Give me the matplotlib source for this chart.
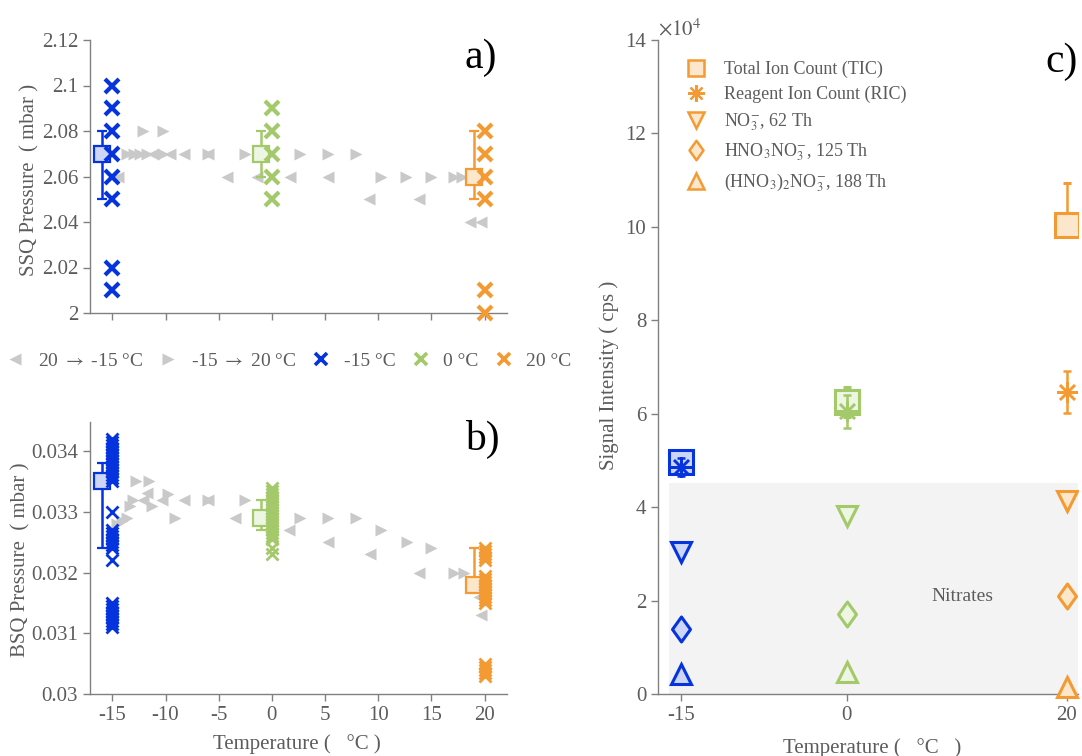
import matplotlib
matplotlib.use("Agg")
import matplotlib.pyplot as plt
from matplotlib.lines import Line2D
from matplotlib.patches import Rectangle
from matplotlib.path import Path
from matplotlib.ticker import FuncFormatter

plt.rcParams["font.family"] = ["Liberation Serif", "DejaVu Serif"]
plt.rcParams["mathtext.fontset"] = "stix"
plt.rcParams["axes.unicode_minus"] = False

# ---- panel a : SSQ pressure (mbar) ----
heat_a_T = [-13.6, -13.0, -12.4, -12.1, -11.7, -10.2, -10.2, -6.0, -2.5, 2.6, 5.3, 7.9,
            10.3, 12.6, 15.0, 17.1, 17.9]
heat_a_P = [2.07, 2.07, 2.07, 2.08, 2.07, 2.08, 2.07, 2.07, 2.07, 2.07, 2.07, 2.07,
            2.06, 2.06, 2.06, 2.06, 2.06]
cool_a_T = [19.7, 18.6, 13.8, 9.1, 5.3, 1.7, -1.4, -4.2, -6.0, -8.3, -9.6, -11.2, -14.5]
cool_a_P = [2.04, 2.04, 2.05, 2.05, 2.06, 2.06, 2.06, 2.06, 2.07, 2.07, 2.07, 2.07, 2.06]
a_m15 = [2.10, 2.09, 2.08, 2.07, 2.06, 2.05, 2.02, 2.01]
a_0 = [2.09, 2.08, 2.07, 2.06, 2.05]
a_20 = [2.08, 2.07, 2.06, 2.05, 2.01, 2.00]
a_mean = [2.07, 2.07, 2.06]
a_lo = [0.02, 0.01, 0.01]
a_hi = [0.01, 0.01, 0.02]

# ---- panel b : BSQ pressure (mbar) ----
heat_b_T = [-14.6, -14.1, -13.6, -13.3, -13.1, -12.8, -11.6, -11.3, -9.8, -9.1, -6.0, -2.5,
            2.6, 5.3, 7.9, 10.3, 12.7, 15.0, 17.1, 18.1]
heat_b_P = [0.03280, 0.03285, 0.03290, 0.03310, 0.03320, 0.03350, 0.03350, 0.03310, 0.03330,
            0.03290, 0.03320, 0.03320, 0.03290, 0.03290, 0.03290, 0.03270, 0.03250, 0.03240,
            0.03200, 0.03200]
cool_b_T = [19.7, 19.5, 13.8, 9.2, 5.3, 1.6, -3.5, -6.0, -8.3, -10.3, -11.7, -12.1]
cool_b_P = [0.03130, 0.03160, 0.03200, 0.03230, 0.03250, 0.03270, 0.03290, 0.03320, 0.03320,
            0.03320, 0.03331, 0.03319]
b_m15 = [0.03420, 0.03415, 0.03410, 0.03405, 0.03400, 0.03395, 0.03390, 0.03385, 0.03380,
         0.03375, 0.03370, 0.03365, 0.03360, 0.03355, 0.03350, 0.03300, 0.03270, 0.03265,
         0.03260, 0.03255, 0.03250, 0.03245, 0.03240, 0.03220, 0.03150, 0.03145, 0.03140,
         0.03135, 0.03130, 0.03125, 0.03120, 0.03115, 0.03110]
b_0 = [0.03340, 0.03335, 0.03330, 0.03325, 0.03320, 0.03315, 0.03310, 0.03305, 0.03300,
       0.03295, 0.03290, 0.03285, 0.03280, 0.03275, 0.03270, 0.03265, 0.03260, 0.03255,
       0.03240, 0.03230]
b_20 = [0.03240, 0.03235, 0.03230, 0.03225, 0.03220, 0.03195, 0.03190, 0.03185, 0.03180,
        0.03175, 0.03170, 0.03165, 0.03160, 0.03155, 0.03150, 0.03050, 0.03045, 0.03040,
        0.03035, 0.03030]
b_mean = [0.03350, 0.03290, 0.03180]
b_lo = [0.00110, 0.00020, 0.00010]
b_hi = [0.00030, 0.00030, 0.00060]

# ---- panel c : signal intensity (cps) ----
temps = [-15, 0, 20]
box_T = [-16, -1, 19]
tic = [49700, 62500, 100300]
tic_lo = [1000, 3200, 1300]
tic_hi = [1000, 3200, 9000]
ric = [48600, 60500, 64700]
ric_err = [2000, 3500, 4500]
no3 = [30400, 38100, 41300]
hno3no3 = [13900, 17100, 21000]
hno3_2no3 = [4300, 4700, 1500]
nitrate_band = (-16.1, 21.0, 45200)

BLUE, BLUE_F = "#0533dd", "#cdd6f6"
GREEN, GREEN_F = "#a3c96b", "#edf5e3"
ORANGE, ORANGE_F = "#f39a33", "#fde7cc"
TRI = "#c9c9c9"
TXT = "#5c5c5c"
AXC = "#808080"
cols = [BLUE, GREEN, ORANGE]
faces = [BLUE_F, GREEN_F, ORANGE_F]

DIAMOND = Path([(0, 1), (0.72, 0), (0, -1), (-0.72, 0), (0, 1)],
               [Path.MOVETO, Path.LINETO, Path.LINETO, Path.LINETO, Path.CLOSEPOLY])


def style(ax):
    for s in ("top", "right"):
        ax.spines[s].set_visible(False)
    for s in ("left", "bottom"):
        ax.spines[s].set_color(AXC)
        ax.spines[s].set_linewidth(1.0)
    ax.tick_params(direction="out", length=5, width=1, color=AXC,
                   labelcolor=TXT, labelsize=15)


W, H = 1082, 756
fig = plt.figure(figsize=(W / 100, H / 100), dpi=100)


def fx(x):
    return x / W


def fy(y):
    return 1 - y / H


ax_a = fig.add_axes([fx(90), fy(313), fx(417), 273 / H])
ax_b = fig.add_axes([fx(90), fy(694), fx(417), 272 / H])
ax_c = fig.add_axes([fx(658), fy(694), fx(420), 654 / H])

# panels a and b
for ax, heatT, heatP, coolT, coolP, groups, mean, lo, hi, xms, xmew in [
    (ax_a, heat_a_T, heat_a_P, cool_a_T, cool_a_P, [a_m15, a_0, a_20], a_mean, a_lo, a_hi, 10, 3.0),
    (ax_b, heat_b_T, heat_b_P, cool_b_T, cool_b_P, [b_m15, b_0, b_20], b_mean, b_lo, b_hi, 8.5, 2.0),
]:
    style(ax)
    ax.plot(coolT, coolP, ls="none", marker="<", ms=8.5, color=TRI, mec="none", zorder=1)
    ax.plot(heatT, heatP, ls="none", marker=">", ms=8.5, color=TRI, mec="none", zorder=1)
    for i in range(3):
        ax.errorbar([box_T[i]], [mean[i]], yerr=[[lo[i]], [hi[i]]], fmt="s", ms=12,
                    mfc=faces[i], mec=cols[i], mew=1.6, ecolor=cols[i], elinewidth=1.8,
                    capsize=3.5, capthick=1.8, zorder=3)
        ax.plot([temps[i]] * len(groups[i]), groups[i], ls="none", marker="x", ms=xms,
                mew=xmew, color=cols[i], zorder=4, clip_on=False)
    ax.set_xlim(-17.1, 22.1)
    ax.set_xticks([-15, -10, -5, 0, 5, 10, 15, 20])
    ax.yaxis.set_major_formatter(FuncFormatter(lambda v, p: f"{v:g}"))

ax_a.set_ylim(2.0, 2.12)
ax_a.set_yticks([2.0, 2.02, 2.04, 2.06, 2.08, 2.1, 2.12])
ax_a.set_xticklabels([])
ax_b.set_ylim(0.03, 0.03448)
ax_b.set_yticks([0.030, 0.031, 0.032, 0.033, 0.034])
ax_b.yaxis.set_major_formatter(FuncFormatter(lambda v, p: f"{round(v, 4):g}"))

ax_a.text(0.976, 0.934, "a)", transform=ax_a.transAxes, ha="right", va="center",
          fontsize=30, color="black")
ax_b.text(0.983, 0.934, "b)", transform=ax_b.transAxes, ha="right", va="center",
          fontsize=30, color="black")

# legend between a and b
handles = [
    Line2D([], [], ls="none", marker="<", ms=8.5, color=TRI, mec="none"),
    Line2D([], [], ls="none", marker=">", ms=8.5, color=TRI, mec="none"),
    Line2D([], [], ls="none", marker="x", ms=9, mew=2.6, color=BLUE),
    Line2D([], [], ls="none", marker="x", ms=9, mew=2.6, color=GREEN),
    Line2D([], [], ls="none", marker="x", ms=9, mew=2.6, color=ORANGE),
]
labels = [r"20 $\rightarrow$ -15 °C", r"-15 $\rightarrow$ 20 °C", "-15 °C", "0 °C", "20 °C"]
fig.legend(handles, labels, loc="center", bbox_to_anchor=(fx(288), fy(361)), ncol=5,
           frameon=False, fontsize=14, labelcolor=TXT, handlelength=1.1,
           handletextpad=0.6, columnspacing=0.75)

# panel c
style(ax_c)
ax_c.add_patch(Rectangle((nitrate_band[0], 0), nitrate_band[1] - nitrate_band[0],
                         nitrate_band[2], facecolor="#f3f3f3", edgecolor="none", zorder=0))
for i in range(3):
    ax_c.errorbar([temps[i]], [tic[i]], yerr=[[tic_lo[i]], [tic_hi[i]]], fmt="s", ms=17,
                  mfc=faces[i], mec=cols[i], mew=2.2, ecolor=cols[i], elinewidth=1.8,
                  capsize=3, capthick=1.8, zorder=3)
    ax_c.errorbar([temps[i]], [ric[i]], yerr=[ric_err[i]], fmt="none", ecolor=cols[i],
                  elinewidth=1.8, capsize=3, capthick=1.8, zorder=4)
    ax_c.plot([temps[i]], [ric[i]], ls="none", marker=(8, 2, 0), ms=15, mew=1.8,
              color=cols[i], zorder=4)
    ax_c.plot([temps[i]], [no3[i]], ls="none", marker="v", ms=15, mfc=faces[i],
              mec=cols[i], mew=2.2, zorder=3)
    ax_c.plot([temps[i]], [hno3no3[i]], ls="none", marker=DIAMOND, ms=18, mfc=faces[i],
              mec=cols[i], mew=2.2, zorder=3)
    ax_c.plot([temps[i]], [hno3_2no3[i]], ls="none", marker="^", ms=15, mfc=faces[i],
              mec=cols[i], mew=2.2, zorder=3, clip_on=False)

ax_c.set_xlim(-17.1, 21.0)
ax_c.set_xticks(temps)
ax_c.set_ylim(0, 140000)
ax_c.set_yticks([0, 20000, 40000, 60000, 80000, 100000, 120000, 140000])
ax_c.yaxis.set_major_formatter(FuncFormatter(lambda v, p: f"{v / 1e4:g}"))
ax_c.text(0.0, 1.0, r"$\times10^4$", transform=ax_c.transAxes, ha="left", va="bottom",
          fontsize=15, color=TXT)
ax_c.text(10.5, 20800, "Nitrates", ha="center", va="center", fontsize=14, color=TXT)
ax_c.text(1.0, 0.966, "c)", transform=ax_c.transAxes, ha="right", va="center",
          fontsize=30, color="black")

c_handles = [
    Line2D([], [], ls="none", marker="s", ms=12, mfc=ORANGE_F, mec=ORANGE, mew=1.8),
    Line2D([], [], ls="none", marker=(8, 2, 0), ms=12, mew=1.6, color=ORANGE),
    Line2D([], [], ls="none", marker="v", ms=12, mfc=ORANGE_F, mec=ORANGE, mew=1.8),
    Line2D([], [], ls="none", marker=DIAMOND, ms=14, mfc=ORANGE_F, mec=ORANGE, mew=1.8),
    Line2D([], [], ls="none", marker="^", ms=12, mfc=ORANGE_F, mec=ORANGE, mew=1.8),
]
c_labels = ["Total Ion Count (TIC)", "Reagent Ion Count (RIC)",
            r"NO$_3^{-}$, 62 Th", r"HNO$_3$NO$_3^{-}$, 125 Th",
            r"(HNO$_3$)$_2$NO$_3^{-}$, 188 Th"]
ax_c.legend(c_handles, c_labels, loc="upper left", bbox_to_anchor=(0.04, 0.985),
            frameon=False, fontsize=13, labelcolor=TXT, handlelength=1.2,
            handletextpad=0.9, labelspacing=0.45, borderaxespad=0.2)

# axis labels
fig.text(fx(30), fy(180), "SSQ Pressure  ( mbar )", rotation=90, ha="center", va="center",
         fontsize=15, color=TXT)
fig.text(fx(21), fy(560), "BSQ Pressure  ( mbar )", rotation=90, ha="center", va="center",
         fontsize=15, color=TXT)
fig.text(fx(297), fy(744), "Temperature (   °C )", ha="center", va="center",
         fontsize=15, color=TXT)
fig.text(fx(609), fy(375), "Signal Intensity ( cps )", rotation=90, ha="center",
         va="center", fontsize=15, color=TXT)
fig.text(fx(872), fy(748), "Temperature (   °C   )", ha="center", va="center",
         fontsize=15, color=TXT)

fig.savefig("out.png", dpi=100, facecolor="white")
